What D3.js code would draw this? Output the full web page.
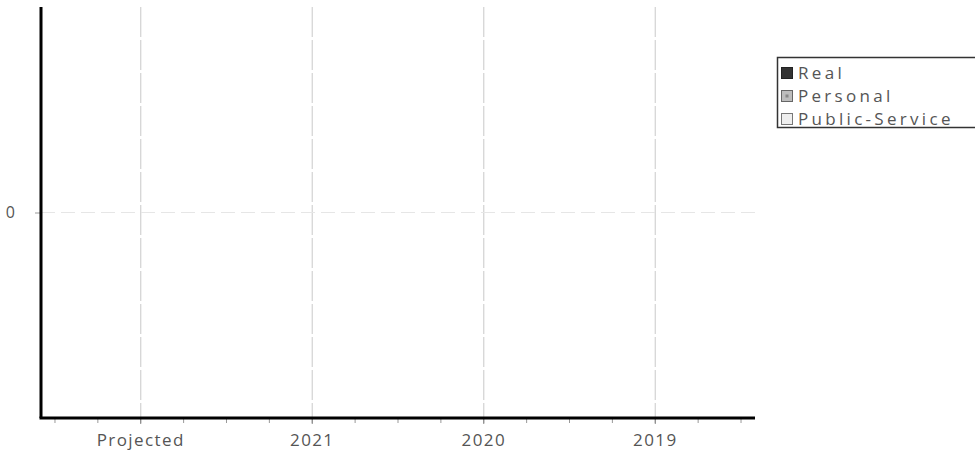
<!DOCTYPE html>
<html>
<head>
<meta charset="utf-8">
<script src="https://cdn.jsdelivr.net/npm/d3@7"></script>
<style>
  html, body { margin: 0; padding: 0; background: #fff; }
  svg { display: block; }
  text { font-family: "Open Sans", "Noto Sans", sans-serif; }
</style>
</head>
<body>
<svg id="chart" width="975" height="459"></svg>
<script>
// ---- data ----
const categories = ["Projected", "2021", "2020", "2019"];
const seriesNames = ["Real", "Personal", "Public-Service"];
const realValues = [0, 0, 0, 0];
const personalValues = [0, 0, 0, 0];
const publicServiceValues = [0, 0, 0, 0];
const yTickValues = [0];
const yDomain = [-1, 1];

(function () {
const svg = d3.select("#chart");
const mLeft = 41, mRight = 755, mTop = 7, mBottom = 418;

const x = d3.scaleBand().domain(categories).range([mLeft, mRight])
  .paddingInner(0).paddingOuter(0.0815);
const y = d3.scaleLinear().domain(yDomain).range([mBottom, mTop]);

// gridlines
svg.append("g").selectAll("line").data(categories).join("line")
  .attr("x1", d => x(d) + x.bandwidth() / 2).attr("x2", d => x(d) + x.bandwidth() / 2)
  .attr("y1", mTop).attr("y2", mBottom)
  .attr("stroke", "#d2d2d2").attr("stroke-width", 1.2)
  .attr("stroke-dasharray", "30,3");
svg.append("g").selectAll("line").data(yTickValues).join("line")
  .attr("x1", mLeft).attr("x2", mRight)
  .attr("y1", d => y(d)).attr("y2", d => y(d))
  .attr("stroke", "#e6e6e6").attr("stroke-width", 1.2)
  .attr("stroke-dasharray", "14,6");

// stacked bars (all zero values)
const rows = categories.map((c, i) => ({
  cat: c, "Real": realValues[i], "Personal": personalValues[i], "Public-Service": publicServiceValues[i]
}));
const stack = d3.stack().keys(seriesNames)(rows);
const fills = { "Real": "#333333", "Personal": "#bdbdbd", "Public-Service": "#eeeeee" };
svg.append("g").selectAll("g").data(stack).join("g")
  .attr("fill", d => fills[d.key])
  .selectAll("rect").data(d => d).join("rect")
  .attr("x", d => x(d.data.cat) + x.bandwidth() * 0.2)
  .attr("width", x.bandwidth() * 0.6)
  .attr("y", d => y(Math.max(d[0], d[1])))
  .attr("height", d => Math.abs(y(d[0]) - y(d[1])));

// x minor ticks (quarter band)
const minor = [];
categories.forEach((c, i) => {
  for (let k = 0; k < 4; k++) minor.push(x(c) + k * x.bandwidth() / 4);
  if (i === categories.length - 1) minor.push(x(c) + x.bandwidth());
});
svg.append("g").selectAll("line").data(minor).join("line")
  .attr("x1", d => d).attr("x2", d => d)
  .attr("y1", mBottom).attr("y2", mBottom + 5)
  .attr("stroke", "#999").attr("stroke-width", 1);

// x axis labels
const xAxis = d3.axisBottom(x).tickSize(6).tickPadding(10);
const gx = svg.append("g").attr("transform", `translate(0,${mBottom})`).call(xAxis);
gx.select(".domain").remove();
gx.selectAll(".tick line").attr("stroke", "#888");
gx.selectAll(".tick text").attr("font-size", 17).attr("fill", "#555")
  .attr("letter-spacing", "1.4px")
  .attr("font-family", "'Open Sans', sans-serif");

// y axis
const yAxis = d3.axisLeft(y).tickValues(yTickValues).tickFormat(d3.format("d"))
  .tickSize(6).tickPadding(20);
const gy = svg.append("g").attr("transform", `translate(${mLeft},0)`).call(yAxis);
gy.select(".domain").remove();
gy.selectAll(".tick line").attr("stroke", "#999");
gy.selectAll(".tick text").attr("font-size", 16).attr("fill", "#555")
  .attr("font-family", "'Open Sans', sans-serif");

// axis lines
svg.append("line").attr("x1", mLeft).attr("x2", mLeft).attr("y1", mTop).attr("y2", mBottom)
  .attr("stroke", "#000").attr("stroke-width", 3);
svg.append("line").attr("x1", mLeft - 1.5).attr("x2", mRight).attr("y1", mBottom).attr("y2", mBottom)
  .attr("stroke", "#000").attr("stroke-width", 3);

// legend
const lg = svg.append("g");
lg.append("rect").attr("x", 777.5).attr("y", 57.5).attr("width", 220).attr("height", 70)
  .attr("fill", "#fff").attr("stroke", "#333").attr("stroke-width", 1.5);
const legendBorders = { "Real": "#222", "Personal": "#666", "Public-Service": "#777" };
const items = lg.selectAll("g").data(seriesNames).join("g")
  .attr("transform", (d, i) => `translate(781,${73 + i * 23})`);
items.append("rect").attr("x", 0.5).attr("y", -5.5).attr("width", 11).attr("height", 11)
  .attr("fill", d => fills[d]).attr("stroke", d => legendBorders[d]).attr("stroke-width", 1);
items.filter(d => d === "Personal").append("rect")
  .attr("x", 4.5).attr("y", -1.5).attr("width", 3).attr("height", 3).attr("fill", "#888");
items.append("text").attr("x", 17).attr("y", 0).attr("dy", "0.36em")
  .attr("font-size", 17).attr("letter-spacing", "3.3px")
  .attr("fill", "#555").text(d => d);
})();
</script>
</body>
</html>
